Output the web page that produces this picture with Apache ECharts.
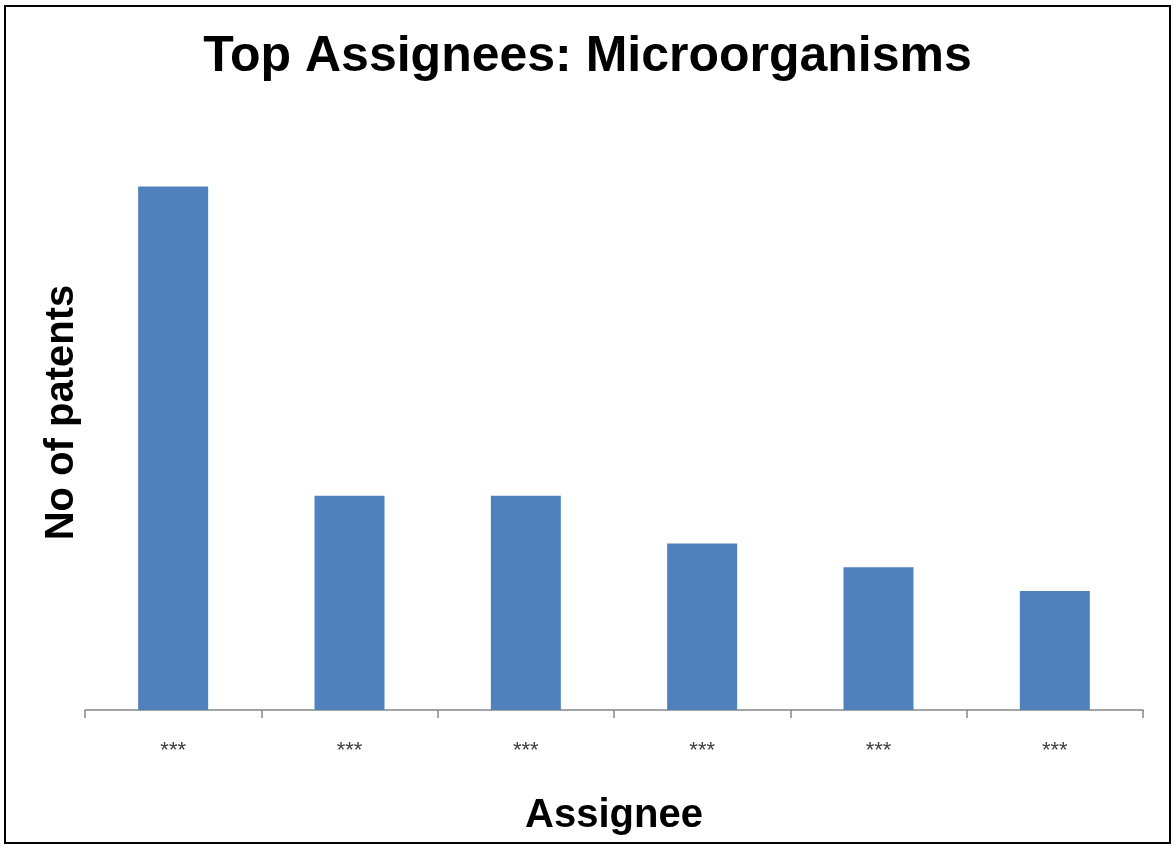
<!DOCTYPE html>
<html>
<head>
<meta charset="utf-8">
<script src="https://cdn.jsdelivr.net/npm/echarts@6/dist/echarts.min.js"></script>
<style>
html,body{margin:0;padding:0;background:#fff;}
#c{width:1175px;height:846px;}
</style>
</head>
<body>
<div id="c"></div>
<script>
const categories = ["***", "***", "***", "***", "***", "***"];
const patents = [22, 9, 9, 7, 6, 5];

const chart = echarts.init(document.getElementById('c'), null, {renderer: 'canvas'});
chart.setOption({
  animation: false,
  backgroundColor: '#ffffff',
  graphic: [{
    type: 'rect',
    shape: {x: 5, y: 6, width: 1165, height: 837},
    style: {fill: 'none', stroke: '#000', lineWidth: 2},
    silent: true
  }],
  title: {
    text: 'Top Assignees: Microorganisms',
    left: 'center',
    top: 27,
    textStyle: {fontFamily: 'Liberation Sans, Arial, sans-serif', fontWeight: 'bold', fontSize: 50, color: '#000'}
  },
  grid: {left: 85, right: 32, top: 115, bottom: 136, containLabel: false},
  xAxis: {
    type: 'category',
    data: categories,
    name: 'Assignee',
    nameLocation: 'middle',
    nameGap: 86,
    nameTextStyle: {fontFamily: 'Liberation Sans, Arial, sans-serif', fontWeight: 'bold', fontSize: 40, color: '#000'},
    axisLine: {show: true, lineStyle: {color: '#868686', width: 1.5}},
    axisTick: {show: true, alignWithLabel: false, length: 8, lineStyle: {color: '#868686', width: 1.5}},
    axisLabel: {margin: 30, fontFamily: 'Liberation Sans, Arial, sans-serif', fontSize: 22, color: '#404040'}
  },
  yAxis: {
    type: 'value',
    min: 0,
    max: 25,
    name: 'No of patents',
    nameLocation: 'middle',
    nameGap: 3,
    nameTextStyle: {fontFamily: 'Liberation Sans, Arial, sans-serif', fontWeight: 'bold', fontSize: 40, color: '#000'},
    axisLine: {show: false},
    axisTick: {show: false},
    axisLabel: {show: false},
    splitLine: {show: false}
  },
  series: [{
    type: 'bar',
    data: patents,
    barWidth: 70,
    itemStyle: {color: '#4F81BD'}
  }]
});
</script>
</body>
</html>
